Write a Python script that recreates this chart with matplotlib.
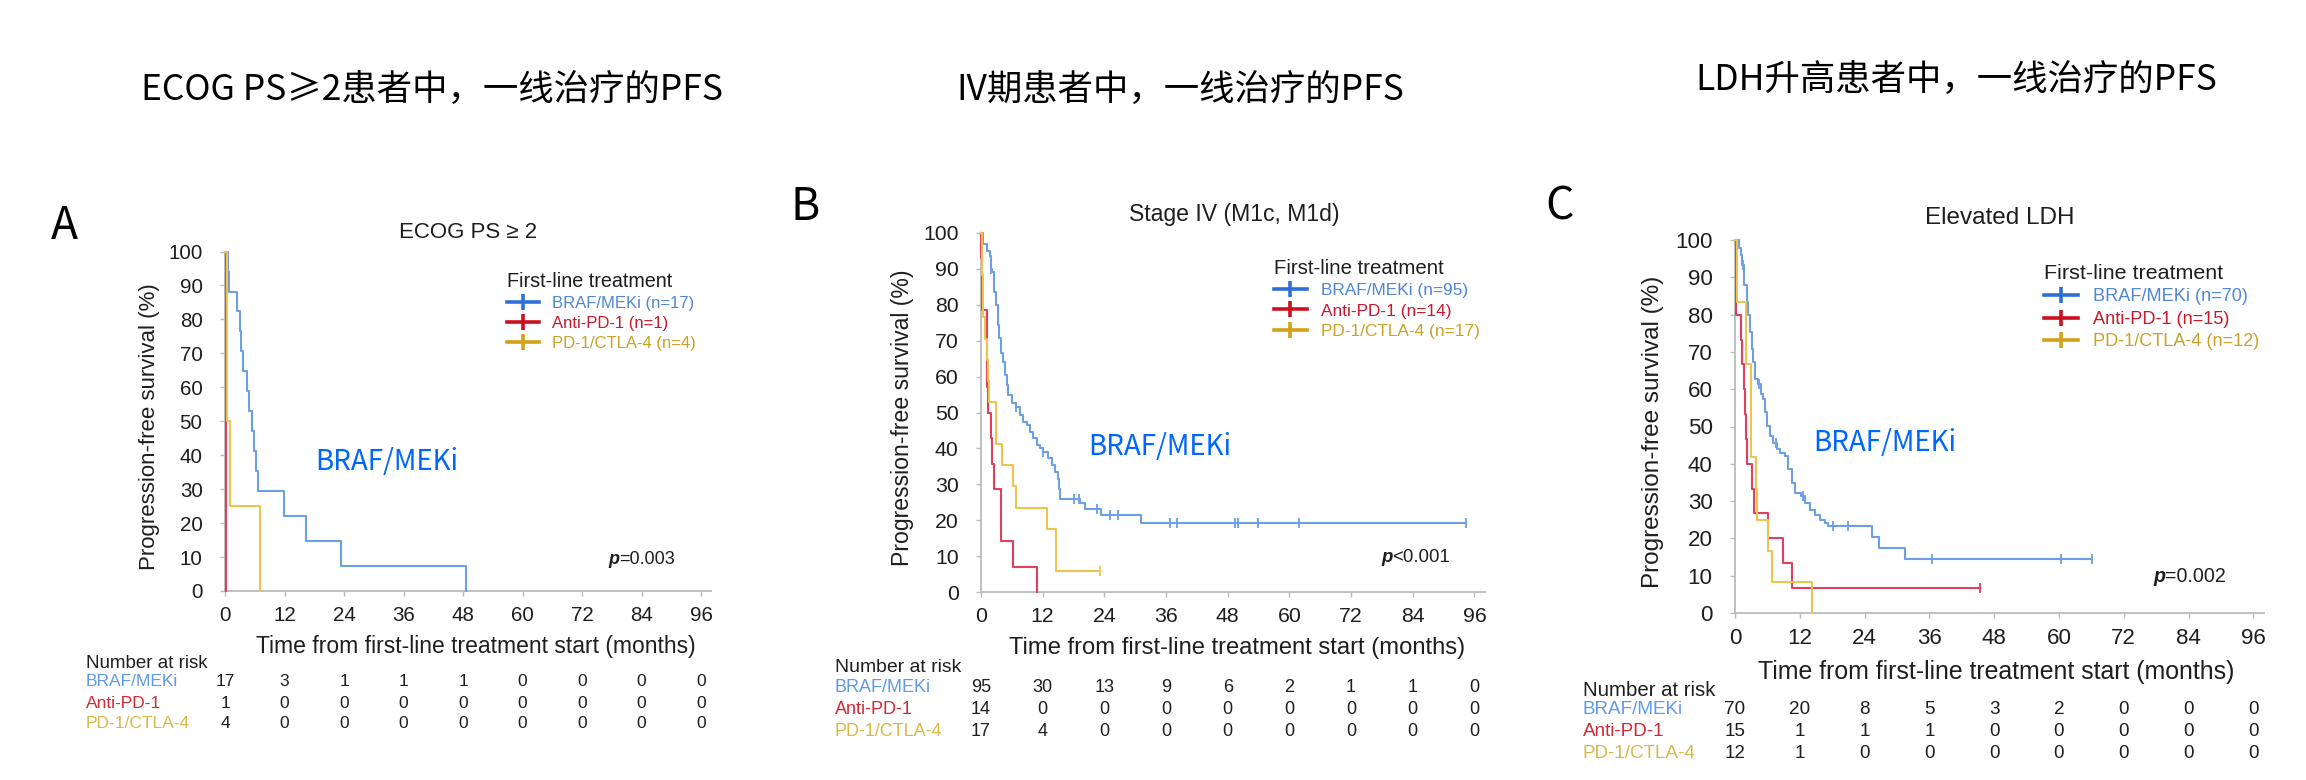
import numpy as np
import matplotlib
matplotlib.use("Agg")
import matplotlib.pyplot as plt
import matplotlib.transforms as mtransforms
from matplotlib.lines import Line2D

plt.rcParams['font.family'] = ['Liberation Sans', 'DejaVu Sans']
CJK = ['Noto Sans CJK SC', 'DejaVu Sans']

W, H = 2306, 780

# ---------------- shared text / ticks ----------------
x_ticks = [0, 12, 24, 36, 48, 60, 72, 84, 96]
y_ticks = [0, 10, 20, 30, 40, 50, 60, 70, 80, 90, 100]
groups = ['BRAF/MEKi', 'Anti-PD-1', 'PD-1/CTLA-4']
x_label = 'Time from first-line treatment start (months)'
y_label = 'Progression-free survival (%)'
legend_title = 'First-line treatment'
risk_header = 'Number at risk'
annot_text = 'BRAF/MEKi'
cn_titles = ['ECOG PS≥2患者中，一线治疗的PFS', 'IV期患者中，一线治疗的PFS', 'LDH升高患者中，一线治疗的PFS']
panel_letters = ['A', 'B', 'C']
panel_titles = ['ECOG PS ≥ 2', 'Stage IV (M1c, M1d)', 'Elevated LDH']
p_values = ['=0.003', '<0.001', '=0.002']

# ---------------- Panel A: ECOG PS >= 2 ----------------
a_n = [17, 1, 4]
a_braf_t = [0, 0.6, 0.9, 2.5, 3.0, 3.2, 3.7, 4.4, 4.8, 5.4, 5.9, 6.25, 6.6, 11.8, 16.4, 23.3, 48.5]
a_braf_s = [100, 94.1, 88.2, 82.4, 76.5, 70.6, 64.7, 58.8, 52.9, 47.1, 41.2, 35.3, 29.4, 22.1, 14.7, 7.4, 0]
a_braf_end = 48.5
a_braf_cens = []
a_anti_t = [0, 0.2]
a_anti_s = [100, 0]
a_anti_end = 0.2
a_anti_cens = []
a_combo_t = [0, 0.47, 1.0, 7.1]
a_combo_s = [100, 50, 25, 0]
a_combo_end = 7.1
a_combo_cens = []
a_risk_braf = [17, 3, 1, 1, 1, 0, 0, 0, 0]
a_risk_anti = [1, 0, 0, 0, 0, 0, 0, 0, 0]
a_risk_combo = [4, 0, 0, 0, 0, 0, 0, 0, 0]

# ---------------- Panel B: Stage IV (M1c, M1d) ----------------
b_n = [95, 14, 17]
b_braf_t = [0, 0.45, 1.1, 1.75, 1.95, 2.2, 2.6, 2.85, 3.25, 3.5, 3.9, 4.35, 4.7, 5.0, 5.3, 5.95,
            6.9, 7.6, 8.2, 8.9, 9.5, 10.2, 10.8, 11.5, 12.1, 13.1, 13.75, 14.4, 14.9, 15.2, 15.4,
            19.3, 20.2, 23.4, 31.1]
b_braf_s = [100, 97, 95, 93.5, 90, 89, 83.7, 80, 74.4, 70.7, 66.5, 64.2, 60.5, 57.7, 54.9, 52.6,
            51.6, 49.3, 47.4, 46.5, 44.7, 42.8, 40.9, 40, 39, 37.2, 35.3, 33.5, 31.6, 28.8, 26,
            24.7, 23.2, 21.4, 19.2]
b_braf_end = 94.3
b_braf_cens = [2.0, 6.9, 12.1, 18.0, 19.0, 22.5, 25.1, 26.7, 36.8, 38.1, 49.5, 50.0, 53.8, 61.9, 94.3]
b_anti_t = [0, 0.05, 0.1, 0.25, 1.1, 1.15, 1.25, 1.3, 1.95, 2.2, 2.6, 3.85, 3.95, 6.2, 10.8]
b_anti_s = [100, 92.9, 85.7, 78.6, 71.4, 64.3, 57.1, 50, 42.9, 35.7, 28.6, 21.4, 14.3, 7.1, 0]
b_anti_end = 10.8
b_anti_cens = []
b_combo_t = [0, 0.1, 0.2, 0.3, 0.8, 1.1, 1.45, 1.5, 2.85, 2.9, 4.15, 6.3, 6.8, 12.8, 14.5]
b_combo_s = [100, 94.1, 88.2, 76.5, 70.6, 64.7, 58.8, 52.9, 47.1, 41.2, 35.3, 29.4, 23.5, 17.6, 5.9]
b_combo_end = 23.2
b_combo_cens = [23.2]
b_risk_braf = [95, 30, 13, 9, 6, 2, 1, 1, 0]
b_risk_anti = [14, 0, 0, 0, 0, 0, 0, 0, 0]
b_risk_combo = [17, 4, 0, 0, 0, 0, 0, 0, 0]

# ---------------- Panel C: Elevated LDH ----------------
c_n = [70, 15, 12]
c_braf_t = [0, 0.74, 1.1, 1.36, 1.73, 2.16, 2.47, 2.78, 3.09, 3.4, 3.7, 4.3, 4.8, 5.25, 5.56, 5.86,
            6.48, 7.1, 7.7, 8.3, 9.26, 9.9, 10.5, 11.1, 12.3, 13.0, 13.9, 14.8, 15.7, 16.7, 17.3,
            25.3, 26.6, 31.4]
c_braf_s = [100, 97.8, 96, 93.3, 87.9, 83.4, 79.8, 75.3, 70.8, 67.2, 62.7, 61.4, 58.7, 57.4, 53.8, 50.2,
            47.5, 45.7, 43.9, 43.0, 42.1, 38.5, 34.9, 32.2, 31.3, 29.5, 27.7, 26.4, 25.0, 24.1, 23.2,
            20.4, 17.4, 14.5]
c_braf_end = 66.1
c_braf_cens = [1.5, 4.5, 7.5, 12.6, 18.1, 21.0, 36.5, 60.3, 66.1]
c_anti_t = [0, 0.19, 1.1, 1.36, 1.67, 1.85, 2.04, 2.28, 3.09, 3.52, 6.17, 8.95, 10.6]
c_anti_s = [100, 80, 73.3, 66.7, 60, 53.3, 46.7, 40, 33.3, 26.7, 20, 13.3, 6.7]
c_anti_end = 45.4
c_anti_cens = [45.4]
c_combo_t = [0, 0.43, 1.98, 2.9, 3.9, 4.14, 6.17, 6.79, 14.2]
c_combo_s = [100, 83.3, 66.7, 41.7, 33.3, 25, 16.7, 8.3, 0]
c_combo_end = 14.2
c_combo_cens = []
c_risk_braf = [70, 20, 8, 5, 3, 2, 0, 0, 0]
c_risk_anti = [15, 1, 1, 1, 0, 0, 0, 0, 0]
c_risk_combo = [12, 1, 0, 0, 0, 0, 0, 0, 0]

# ---------------- styles ----------------
curve_colors = ['#6C9FE4', '#E0405E', '#EEC350']
handle_colors = ['#2E6FD6', '#CC1020', '#D4A017']
legend_text_colors = ['#4F86D6', '#C8182C', '#C9A227']
risk_label_colors = ['#5E9BE6', '#D02A36', '#D9B84A']
annot_color = '#0066FF'
spine_color = '#BBBBBB'
text_color = '#1E1E1E'

# pixel layout of each panel (positions only)
layouts = [
    dict(left=225, bottom=591, top=251.5, ppm=4.96, k=1.0, letter=(64, 226), title=(468, 232),
         legend=(507, 272), note=(315, 462), p=(608, 560), ylab_x=150, xlab=(476, 647),
         risk_x=86, risk_y=[664, 682, 703, 723], cn=(432, 90)),
    dict(left=981, bottom=592, top=233, ppm=5.14, k=1.036, letter=(805, 207), title=(1234, 215),
         legend=(1274, 259), note=(1088, 447), p=(1381, 558), ylab_x=902, xlab=(1237, 648),
         risk_x=835, risk_y=[668, 687, 709, 731], cn=(1180, 90)),
    dict(left=1735, bottom=613, top=240, ppm=5.40, k=1.089, letter=(1560, 207), title=(2000, 218),
         legend=(2044, 264), note=(1813, 443), p=(2153, 577), ylab_x=1653, xlab=(1996, 672),
         risk_x=1583, risk_y=[690, 710, 732, 754], cn=(1956, 80)),
]
XMAX = 98

panels = [
    dict(n=a_n, series=[(a_braf_t, a_braf_s, a_braf_end, a_braf_cens),
                        (a_anti_t, a_anti_s, a_anti_end, a_anti_cens),
                        (a_combo_t, a_combo_s, a_combo_end, a_combo_cens)],
         risk=[a_risk_braf, a_risk_anti, a_risk_combo]),
    dict(n=b_n, series=[(b_braf_t, b_braf_s, b_braf_end, b_braf_cens),
                        (b_anti_t, b_anti_s, b_anti_end, b_anti_cens),
                        (b_combo_t, b_combo_s, b_combo_end, b_combo_cens)],
         risk=[b_risk_braf, b_risk_anti, b_risk_combo]),
    dict(n=c_n, series=[(c_braf_t, c_braf_s, c_braf_end, c_braf_cens),
                        (c_anti_t, c_anti_s, c_anti_end, c_anti_cens),
                        (c_combo_t, c_combo_s, c_combo_end, c_combo_cens)],
         risk=[c_risk_braf, c_risk_anti, c_risk_combo]),
]

fig = plt.figure(figsize=(W / 100, H / 100), dpi=100)
fig.patch.set_facecolor('white')


def step_xy(t, s, end):
    x = list(t)
    y = list(s)
    if end > t[-1]:
        x.append(end)
        y.append(s[-1])
    return x, y


for i, (P, L) in enumerate(zip(panels, layouts)):
    k = L['k']
    w = XMAX * L['ppm']
    h = L['bottom'] - L['top']
    ax = fig.add_axes([L['left'] / W, (H - L['bottom']) / H, w / W, h / H])

    def fx(X):
        return (X - L['left']) / w

    def fy(Y):
        return (L['bottom'] - Y) / h

    # curves: BRAF, PD-1/CTLA-4, Anti-PD-1 (red on top)
    for gi in [0, 2, 1]:
        t, s, end, cens = P['series'][gi]
        x, y = step_xy(t, s, end)
        ax.step(x, y, where='post', color=curve_colors[gi], lw=1.5, clip_on=False, zorder=3 + gi)
        if len(cens):
            t_arr = np.asarray(t)
            s_arr = np.asarray(s)
            cy = [s_arr[np.searchsorted(t_arr, c, side='right') - 1] for c in cens]
            ax.plot(cens, cy, ls='none', marker='|', ms=7, mew=1.3, color=curve_colors[gi],
                    clip_on=False, zorder=3 + gi)

    ax.set_xlim(0, XMAX)
    ax.set_ylim(0, 100)
    ax.set_xticks(x_ticks)
    ax.set_yticks(y_ticks)
    for sp in ['top', 'right']:
        ax.spines[sp].set_visible(False)
    for sp in ['left', 'bottom']:
        ax.spines[sp].set_color(spine_color)
        ax.spines[sp].set_linewidth(1.3)
    ax.tick_params(axis='both', direction='out', length=3.6, width=1.0, color=spine_color,
                   labelsize=14.8 * k, labelcolor=text_color)
    ax.tick_params(axis='y', pad=12.5)
    ax.tick_params(axis='x', pad=7)

    ax.set_ylabel(y_label, fontsize=16 * k, color=text_color)
    ax.yaxis.set_label_coords(fx(L['ylab_x']), 0.485)
    ax.yaxis.label.set_va('center')
    ax.set_xlabel(x_label, fontsize=16.5 * k, color=text_color)
    ax.xaxis.set_label_coords(fx(L['xlab'][0]), fy(L['xlab'][1]))
    ax.xaxis.label.set_va('center')

    # small panel title
    ax.text(fx(L['title'][0]), fy(L['title'][1]), panel_titles[i], transform=ax.transAxes,
            ha='center', va='center', fontsize=16 * k, color=text_color)

    # legend
    handles = [Line2D([0], [0], color=c, lw=2.6, marker='|', ms=11, mew=2.6) for c in handle_colors]
    labels = [f'{g} (n={n})' for g, n in zip(groups, P['n'])]
    leg = ax.legend(handles, labels, title=legend_title, loc='upper left',
                    bbox_to_anchor=(fx(L['legend'][0]), fy(L['legend'][1])),
                    bbox_transform=ax.transAxes, frameon=False, fontsize=12 * k,
                    title_fontsize=14.2 * k, handlelength=1.9, handletextpad=0.8,
                    labelspacing=0.3, borderpad=0, borderaxespad=0, alignment='left',
                    labelcolor=legend_text_colors)
    leg.get_title().set_color(text_color)

    # blue annotation
    ax.text(fx(L['note'][0]), fy(L['note'][1]), annot_text, transform=ax.transAxes,
            ha='left', va='center', fontsize=20, color=annot_color, family=CJK)

    # p value
    tp = ax.text(fx(L['p'][0]), fy(L['p'][1]), 'p', transform=ax.transAxes, ha='left',
                 va='center', fontsize=13 * k, fontweight='bold', style='italic', color=text_color)
    ax.annotate(p_values[i], xy=(1, 0), xycoords=tp, ha='left', va='bottom',
                fontsize=13 * k, color=text_color)

    # number at risk table
    rx = fx(L['risk_x'])
    ry = [fy(v) for v in L['risk_y']]
    ax.text(rx, ry[0], risk_header, transform=ax.transAxes, ha='left', va='center',
            fontsize=13.5 * k, color=text_color)
    trans = mtransforms.blended_transform_factory(ax.transData, ax.transAxes)
    for gi in range(3):
        ax.text(rx, ry[gi + 1], groups[gi], transform=ax.transAxes, ha='left', va='center',
                fontsize=12.5 * k, color=risk_label_colors[gi])
        for xt, nv in zip(x_ticks, P['risk'][gi]):
            ax.text(xt, ry[gi + 1], str(nv), transform=trans, ha='center', va='center',
                    fontsize=12.5 * k, color=text_color)

    # panel letter and Chinese heading
    fig.text(L['letter'][0] / W, 1 - L['letter'][1] / H, panel_letters[i], ha='center',
             va='center', fontsize=32, family=CJK, color='black')
    fig.text(L['cn'][0] / W, 1 - L['cn'][1] / H, cn_titles[i], ha='center', va='center',
             fontsize=25.5, family=CJK, color='black')

fig.savefig('out.png', dpi=100, facecolor='white')
